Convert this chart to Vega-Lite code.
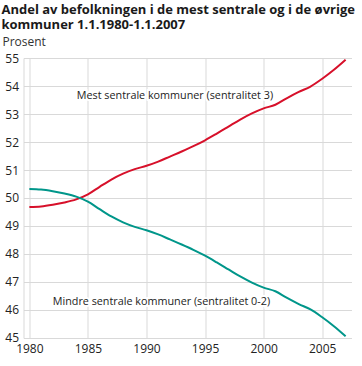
{
  "$schema": "https://vega.github.io/schema/vega-lite/v6.json",
  "width": 328,
  "height": 280,
  "autosize": "none",
  "padding": {"left": 23.5, "top": 58, "right": 10.3, "bottom": 28},
  "background": "white",
  "config": {
    "view": {"stroke": null},
    "font": "Open Sans",
    "axis": {"labelFont": "Open Sans", "labelFontSize": 12, "labelColor": "#222", "gridColor": "#d9d9d9", "gridWidth": 1, "labelOverlap": false}
  },
  "title": {
    "text": ["Andel av befolkningen i de mest sentrale og i de øvrige", "kommuner 1.1.1980-1.1.2007"],
    "anchor": "start",
    "frame": "group",
    "dx": -22,
    "dy": 1,
    "fontSize": 13,
    "fontWeight": "bold",
    "font": "Open Sans",
    "color": "#1a1a1a",
    "lineHeight": 15.5,
    "offset": 4
  },
  "datasets": {
    "series": [
      {"year": 1980, "group": "Mest", "value": 49.68},
      {"year": 1981, "group": "Mest", "value": 49.70},
      {"year": 1982, "group": "Mest", "value": 49.76},
      {"year": 1983, "group": "Mest", "value": 49.84},
      {"year": 1984, "group": "Mest", "value": 49.95},
      {"year": 1985, "group": "Mest", "value": 50.13},
      {"year": 1986, "group": "Mest", "value": 50.40},
      {"year": 1987, "group": "Mest", "value": 50.66},
      {"year": 1988, "group": "Mest", "value": 50.87},
      {"year": 1989, "group": "Mest", "value": 51.03},
      {"year": 1990, "group": "Mest", "value": 51.15},
      {"year": 1991, "group": "Mest", "value": 51.30},
      {"year": 1992, "group": "Mest", "value": 51.48},
      {"year": 1993, "group": "Mest", "value": 51.66},
      {"year": 1994, "group": "Mest", "value": 51.85},
      {"year": 1995, "group": "Mest", "value": 52.06},
      {"year": 1996, "group": "Mest", "value": 52.30},
      {"year": 1997, "group": "Mest", "value": 52.55},
      {"year": 1998, "group": "Mest", "value": 52.80},
      {"year": 1999, "group": "Mest", "value": 53.02},
      {"year": 2000, "group": "Mest", "value": 53.20},
      {"year": 2001, "group": "Mest", "value": 53.33},
      {"year": 2002, "group": "Mest", "value": 53.57},
      {"year": 2003, "group": "Mest", "value": 53.79},
      {"year": 2004, "group": "Mest", "value": 53.98},
      {"year": 2005, "group": "Mest", "value": 54.26},
      {"year": 2006, "group": "Mest", "value": 54.58},
      {"year": 2007, "group": "Mest", "value": 54.94},
      {"year": 1980, "group": "Mindre", "value": 50.32},
      {"year": 1981, "group": "Mindre", "value": 50.30},
      {"year": 1982, "group": "Mindre", "value": 50.24},
      {"year": 1983, "group": "Mindre", "value": 50.16},
      {"year": 1984, "group": "Mindre", "value": 50.05},
      {"year": 1985, "group": "Mindre", "value": 49.87},
      {"year": 1986, "group": "Mindre", "value": 49.60},
      {"year": 1987, "group": "Mindre", "value": 49.34},
      {"year": 1988, "group": "Mindre", "value": 49.13},
      {"year": 1989, "group": "Mindre", "value": 48.97},
      {"year": 1990, "group": "Mindre", "value": 48.85},
      {"year": 1991, "group": "Mindre", "value": 48.70},
      {"year": 1992, "group": "Mindre", "value": 48.52},
      {"year": 1993, "group": "Mindre", "value": 48.34},
      {"year": 1994, "group": "Mindre", "value": 48.15},
      {"year": 1995, "group": "Mindre", "value": 47.94},
      {"year": 1996, "group": "Mindre", "value": 47.70},
      {"year": 1997, "group": "Mindre", "value": 47.45},
      {"year": 1998, "group": "Mindre", "value": 47.20},
      {"year": 1999, "group": "Mindre", "value": 46.98},
      {"year": 2000, "group": "Mindre", "value": 46.80},
      {"year": 2001, "group": "Mindre", "value": 46.67},
      {"year": 2002, "group": "Mindre", "value": 46.43},
      {"year": 2003, "group": "Mindre", "value": 46.21},
      {"year": 2004, "group": "Mindre", "value": 46.02},
      {"year": 2005, "group": "Mindre", "value": 45.74},
      {"year": 2006, "group": "Mindre", "value": 45.42},
      {"year": 2007, "group": "Mindre", "value": 45.06}
    ],
    "labels": [
      {"year": 1984.05, "value": 53.65, "label": "Mest sentrale kommuner (sentralitet 3)"},
      {"year": 1982.0, "value": 46.3, "label": "Mindre sentrale kommuner (sentralitet 0-2)"}
    ]
  },
  "layer": [
    {
      "data": {"name": "series"},
      "mark": {"type": "line", "strokeWidth": 2, "interpolate": "monotone"},
      "encoding": {
        "x": {"field": "year", "type": "quantitative", "scale": {"domain": [1979.5, 2007.5], "nice": false, "zero": false},
              "axis": {"values": [1980, 1985, 1990, 1995, 2000, 2005], "format": "d", "title": null, "ticks": false, "domain": false, "grid": true, "labelPadding": 6, "labelFlush": false}},
        "y": {"field": "value", "type": "quantitative", "scale": {"domain": [45, 55], "nice": false, "zero": false},
              "axis": {"values": [45, 46, 47, 48, 49, 50, 51, 52, 53, 54, 55], "tickCount": 11, "labelOverlap": false, "title": "Prosent", "titleAngle": 0, "titleAlign": "left", "titleBaseline": "alphabetic", "titleX": -21.5, "titleY": -13, "titleFont": "Open Sans", "titleFontSize": 12, "titleFontWeight": "normal", "titleColor": "#333", "ticks": false, "domain": true, "domainColor": "#d9d9d9", "grid": true, "labelPadding": 5}},
        "color": {"field": "group", "type": "nominal", "scale": {"domain": ["Mest", "Mindre"], "range": ["#d7102a", "#00968a"]}, "legend": null}
      }
    },
    {
      "mark": {"type": "rule", "color": "#8f8f8f", "strokeWidth": 1},
      "encoding": {
        "x": {"datum": 1977.5, "type": "quantitative"},
        "x2": {"datum": 2008.0},
        "y": {"datum": 55.93, "type": "quantitative"}
      }
    },
    {
      "mark": {"type": "rule", "color": "#8f8f8f", "strokeWidth": 1},
      "encoding": {
        "x": {"datum": 1977.5, "type": "quantitative"},
        "x2": {"datum": 2008.3},
        "y": {"datum": 44.11, "type": "quantitative"}
      }
    },
    {
      "data": {"name": "labels"},
      "mark": {"type": "text", "align": "left", "baseline": "middle", "fontSize": 10.8, "stroke": "white", "strokeWidth": 4, "fill": "white"},
      "encoding": {
        "x": {"field": "year", "type": "quantitative"},
        "y": {"field": "value", "type": "quantitative"},
        "text": {"field": "label"}
      }
    },
    {
      "data": {"name": "labels"},
      "mark": {"type": "text", "align": "left", "baseline": "middle", "fontSize": 10.8, "color": "#222"},
      "encoding": {
        "x": {"field": "year", "type": "quantitative"},
        "y": {"field": "value", "type": "quantitative"},
        "text": {"field": "label"}
      }
    }
  ]
}
